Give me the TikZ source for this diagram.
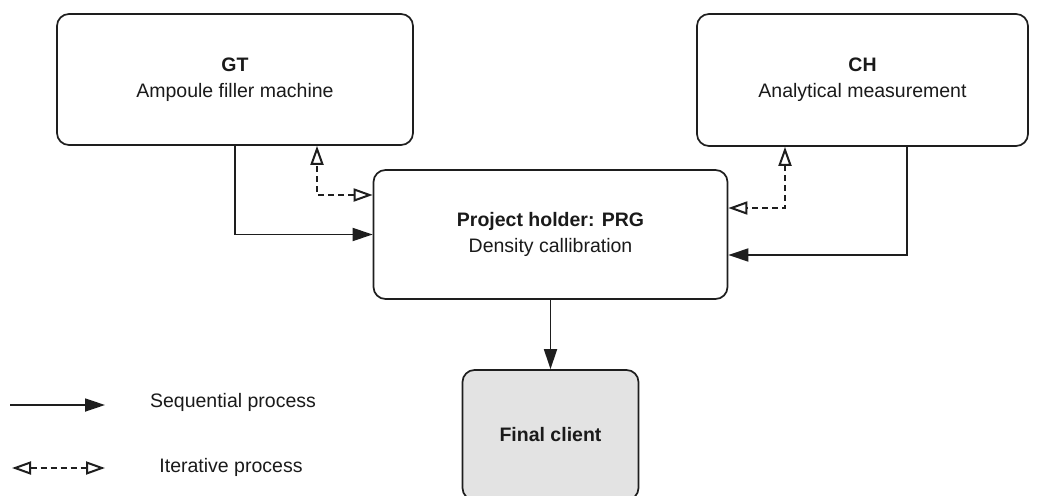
\documentclass[tikz,border=0pt]{standalone}
\usepackage{fontspec}
\setmainfont{Liberation Sans}
\usetikzlibrary{arrows.meta}
\definecolor{linec}{HTML}{1E1E1E}
\definecolor{textc}{HTML}{1A1A1A}
\definecolor{clientfill}{HTML}{E3E3E3}
\tikzset{
  box/.style={draw=linec, line width=1.7pt, rounded corners=12pt, fill=white,
    align=center, text=textc, inner sep=0pt,
    font=\fontsize{19.5}{26}\selectfont},
  seq/.style={draw=linec, line width=1.8pt, -{Triangle[length=20pt,width=13pt]}},
  otip/.tip={Triangle[open, fill=white, length=19pt, width=13pt, line width=2pt]},
  itr/.style={draw=linec, line width=1.8pt, dash pattern=on 6pt off 4pt, otip-otip},
  legtext/.style={text=textc, font=\fontsize{19.5}{26}\selectfont, inner sep=0pt}
}
\begin{document}
\begin{tikzpicture}[x=1pt,y=-1pt]
\useasboundingbox (0,0) rectangle (1040,495);
\node[box, minimum width=356pt, minimum height=131pt] (gt) at (235,79.5)
  {\textbf{GT}\\Ampoule filler machine};
\node[box, minimum width=331pt, minimum height=132pt] (ch) at (862.5,80)
  {\textbf{CH}\\Analytical measurement};
\node[box, minimum width=354pt, minimum height=129pt] (prg) at (550.5,234.5)
  {\textbf{Project holder: PRG}\\Density callibration};
\node[box, fill=clientfill, minimum width=176pt, minimum height=130pt] (fc) at (550.5,435)
  {\textbf{Final client}};

\draw[seq] (gt.south) |- (prg.west);
\draw[itr] ([yshift=39.5pt]prg.west) -| ([xshift=82pt]gt.south);
\draw[itr] ([xshift=-77.5pt]ch.south) |- ([yshift=26.5pt]prg.east);
\draw[seq] ([xshift=44.5pt]ch.south) |- ([yshift=-20.5pt]prg.east);
\draw[seq] (prg.south) -- (fc.north);

\coordinate (ls1) at (10,405);
\coordinate (ls2) at (105,405);
\coordinate (li1) at (12,468);
\coordinate (li2) at (105,468);
\draw[seq] (ls1) -- (ls2);
\draw[itr] (li1) -- (li2);
\node[legtext] (lt1) at (233,402) {Sequential process};
\node[legtext] (lt2) at (231,467) {Iterative process};
\end{tikzpicture}
\end{document}
